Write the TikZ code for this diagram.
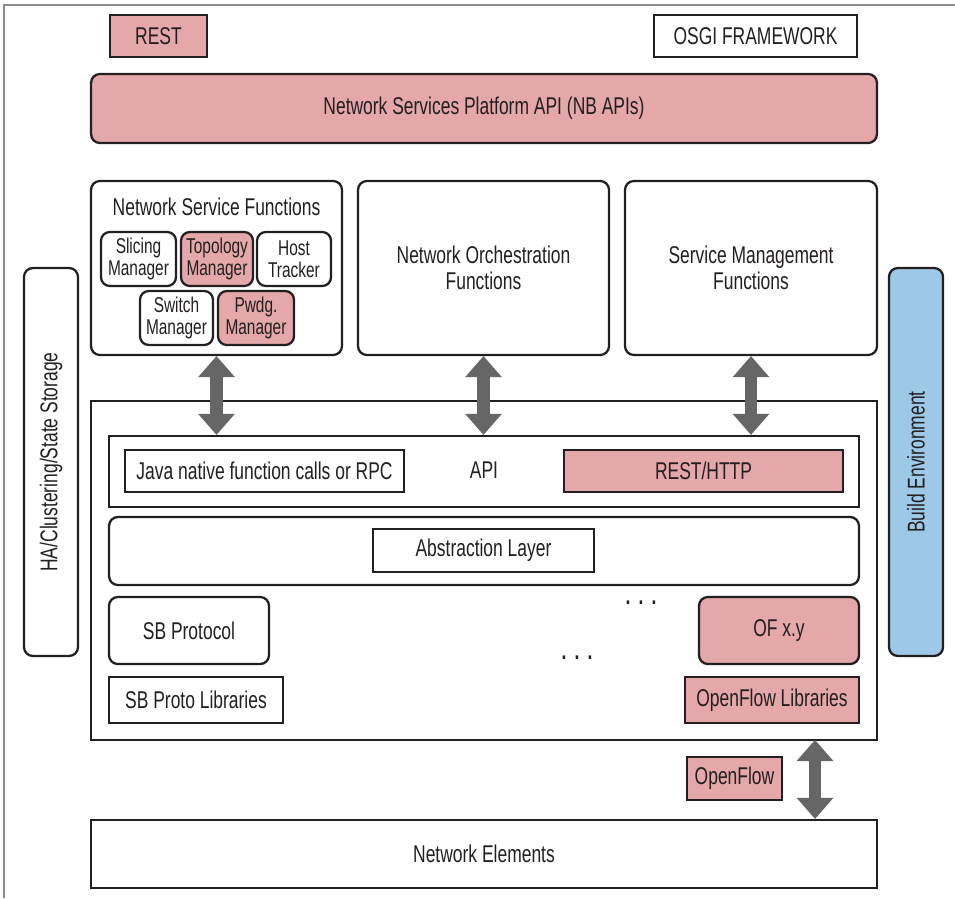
\documentclass[tikz,border=0pt]{standalone}
\usepackage{fontspec}
\setmainfont{Liberation Sans}[FakeStretch=0.72]
\usetikzlibrary{arrows.meta}
\definecolor{nbpink}{HTML}{E4A7AA}
\definecolor{buildblue}{HTML}{9DC8E6}
\definecolor{arrgray}{HTML}{666666}
\definecolor{framegray}{HTML}{8C8C8C}
\definecolor{ink}{HTML}{231F20}
\begin{document}
\begin{tikzpicture}[x=0.02cm,y=-0.02cm,
  every node/.style={font=\fontsize{13.8}{15}\selectfont,text=ink,inner sep=0pt},
  box/.style={draw=ink,line width=1.3pt,minimum width=#1},
  rbox/.style={box=#1,rounded corners=5pt},
  small/.style={font=\fontsize{12.2}{12.5}\selectfont,align=center},
  bothway/.style={draw=arrgray,line width=7pt,{Triangle[width=21pt,length=12pt,line width=0pt]}-{Triangle[width=21pt,length=12pt,line width=0pt]}}]
\useasboundingbox (0,0) rectangle (955,898);
\draw[framegray,line width=1.5pt] (955,5) -- (4,5) -- (4,898);
% top row
\node[box=1.94cm,minimum height=0.84cm,fill=nbpink] (rest) at (158.5,36) {REST};
\node[box=4.06cm,minimum height=0.84cm] (osgi) at (755.5,36) {OSGI FRAMEWORK};
\node[rbox=15.72cm,minimum height=1.38cm,fill=nbpink] (nbapi) at (484,108.5) {Network Services Platform API (NB APIs)};
% function blocks
\node[rbox=5.02cm,minimum height=3.48cm] (nsf) at (216.5,268) {};
\node (nsftitle) at (216.5,207) {Network Service Functions};
\node[rbox=1.5cm,minimum height=1.08cm,small] (slicing) at (138.5,259) {Slicing\\Manager};
\node[rbox=1.44cm,minimum height=1.08cm,small,fill=nbpink] (topo) at (217,259) {Topology\\Manager};
\node[rbox=1.48cm,minimum height=1.08cm,small] (host) at (294,259) {Host\\Tracker};
\node[rbox=1.46cm,minimum height=1.08cm,small] (switch) at (176.5,318) {Switch\\Manager};
\node[rbox=1.52cm,minimum height=1.08cm,small,fill=nbpink] (pwdg) at (256,318) {Pwdg.\\Manager};
\node[rbox=5.02cm,minimum height=3.48cm,align=center] (orch) at (483.5,268) {Network Orchestration\\Functions};
\node[rbox=5.04cm,minimum height=3.48cm,align=center] (svc) at (751,268) {Service Management\\Functions};
% side bars
\node[rbox=7.76cm,minimum height=1.08cm,rotate=90] (ha) at (51,462) {HA/Clustering/State Storage};
\node[rbox=7.76cm,minimum height=1.08cm,rotate=90,fill=buildblue] (build) at (916,462) {Build Environment};
% controller core
\node[box=15.72cm,minimum height=6.78cm] (core) at (484,570.5) {};
\node[box=15cm,minimum height=1.42cm] (apirow) at (484,471.5) {};
\node[box=5.58cm,minimum height=0.84cm] (java) at (264.5,471) {Java native function calls or RPC};
\node (api) at (484,470) {API};
\node[box=5.58cm,minimum height=0.84cm,fill=nbpink] (resthttp) at (703.5,471) {REST/HTTP};
\node[rbox=15cm,minimum height=1.36cm] (abstrow) at (484,551) {};
\node[box=4.42cm,minimum height=0.86cm] (abst) at (483.5,550.5) {Abstraction Layer};
\node[rbox=3.2cm,minimum height=1.34cm] (sbproto) at (189,630.5) {SB Protocol};
\node[box=3.48cm,minimum height=0.92cm] (sblib) at (196,700) {SB Proto Libraries};
\node[rbox=3.2cm,minimum height=1.34cm,fill=nbpink] (ofxy) at (779,630.5) {OF x.y};
\node[box=3.48cm,minimum height=0.92cm,fill=nbpink] (oflib) at (772,700) {OpenFlow Libraries};
\node (dotsa) at (641,603) {\textbf{.\,\,.\,\,.}};
\node (dotsb) at (577,658) {\textbf{.\,\,.\,\,.}};
% southbound
\node[box=1.9cm,minimum height=0.86cm,fill=nbpink] (ofproto) at (734.5,778.5) {OpenFlow};
\node[box=15.72cm,minimum height=1.36cm] (ne) at (484,854) {Network Elements};
\coordinate (ofup) at (815,740);
% arrows
\draw[bothway] (nsf.south) -- (nsf.south |- apirow.north);
\draw[bothway] (orch.south) -- (orch.south |- apirow.north);
\draw[bothway] (svc.south) -- (svc.south |- apirow.north);
\draw[bothway] (ofup) -- (ofup |- ne.north);
\end{tikzpicture}
\end{document}
